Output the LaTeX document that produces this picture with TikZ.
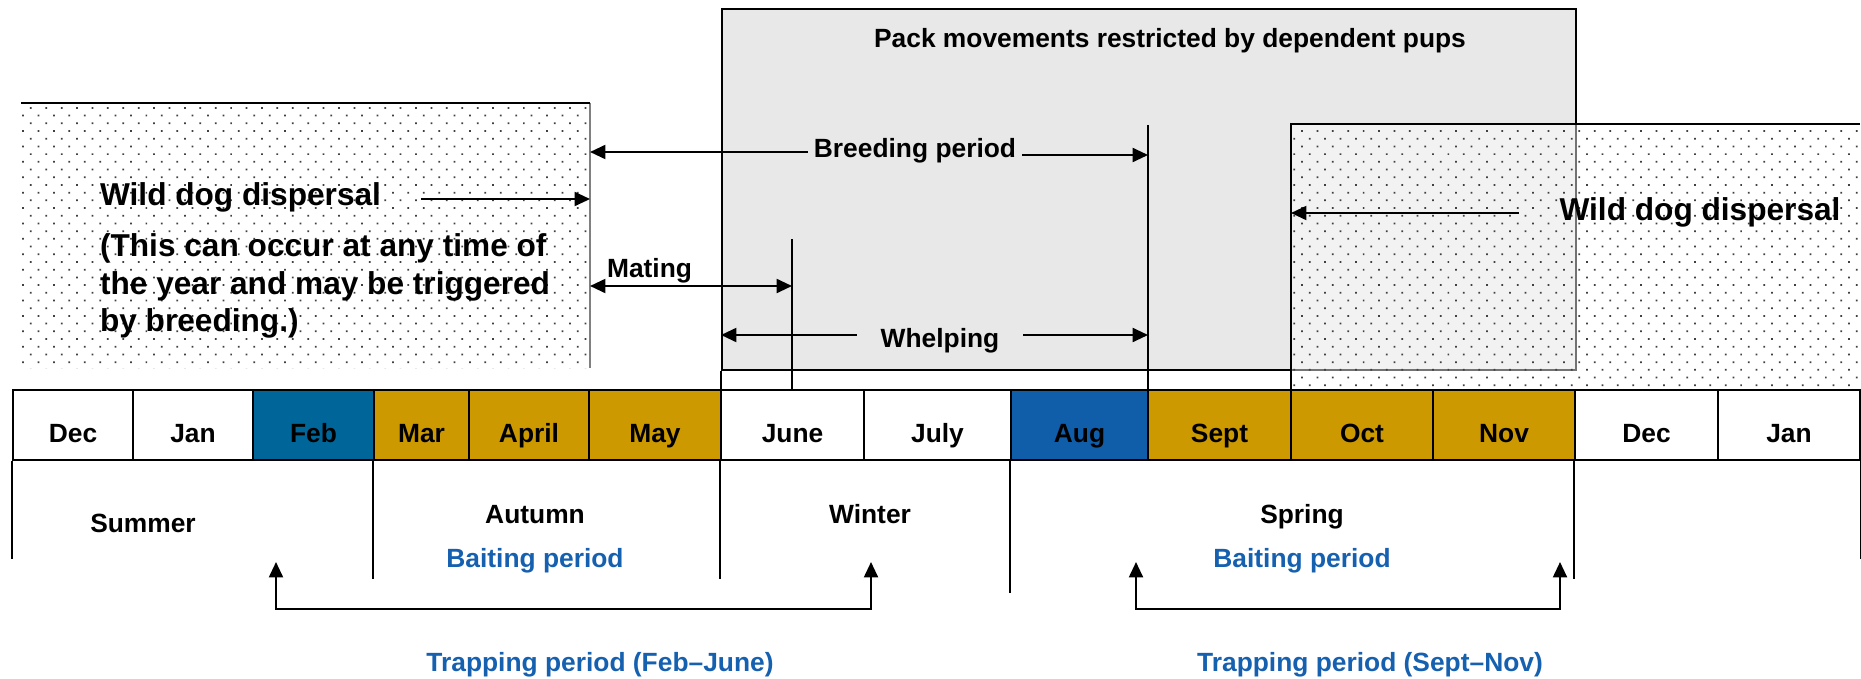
\documentclass[tikz,border=0pt]{standalone}
\usepackage{fontspec}
\setmainfont{Liberation Sans}
\usetikzlibrary{arrows.meta,patterns.meta}
\definecolor{febblue}{RGB}{0,102,153}
\definecolor{augblue}{RGB}{16,94,170}
\definecolor{gold}{RGB}{204,153,0}
\definecolor{baitblue}{RGB}{22,96,176}
\definecolor{packgrey}{RGB}{232,232,232}
\tikzset{
  lbl/.style={font=\bfseries\fontsize{7.5}{9}\selectfont, anchor=base, inner sep=0pt},
  big/.style={font=\bfseries\fontsize{9}{10.6}\selectfont, inner sep=0pt},
  cell/.style={rectangle, draw, line width=0.7pt, minimum height=7mm, inner sep=0pt},
  arr/.style={-{Triangle[length=4.4pt,width=4pt]}, line width=0.6pt},
  dblarr/.style={{Triangle[length=4.4pt,width=4pt]}-{Triangle[length=4.4pt,width=4pt]}, line width=0.6pt},
  dogzone/.style={pattern={Dots[distance=3.1pt,radius=0.35pt,angle=45]}, pattern color=black!75}
}
\begin{document}
\begin{tikzpicture}[x=0.1mm, y=-0.1mm, line width=0.6pt]
  \useasboundingbox (0,0) rectangle (1861,678);
  \path[dogzone] (21,103) rectangle (590,368);
  \draw[gray, line width=0.3pt] (590,103) -- (590,368);
  \draw[line width=0.8pt] (21,103) -- (590,103);
  \node[rectangle, draw, fill=packgrey, minimum width=85.4mm, minimum height=36.1mm, anchor=north west, inner sep=0pt] (pack) at (721,8) {};
  \node[lbl] (packt) at (1170,48) {Pack movements restricted by dependent pups};
  \draw (pack.south west) -- (721,390);
  \fill[white, fill opacity=0.45] (1291,124) rectangle (1860,390);
  \path[dogzone] (1291,124) rectangle (1860,390);
  \draw[line width=0.8pt] (1291,390) -- (1291,124) -- (1860,124);

  \node[big, anchor=base west] (wdl) at (99,205) {Wild dog dispersal};
  \coordinate (wdlB) at (590,199);
  \draw[arr, shorten <=3.9mm] (wdl.east |- wdlB) -- (wdlB);
  \node[big, anchor=west, align=left] (note) at (99,286) {(This can occur at any time of\\the year and may be triggered\\by breeding.)};
  \node[big, anchor=base] (wdr) at (1700,220) {Wild dog dispersal};
  \coordinate (wdrB) at (1291,213);
  \draw[arr, shorten <=4mm] (wdr.west |- wdrB) -- (wdrB);

  \node[lbl, inner xsep=0.5mm] (breed) at (915,158) {Breeding period};
  \coordinate (bL) at (590,152);
  \coordinate (bR) at (1148,155);
  \draw[arr] (breed.west |- bL) -- (bL);
  \draw[arr] (breed.east |- bR) -- (bR);
  \draw (1148,125) -- (1148,390);
  \node[lbl, anchor=base west] (mate) at (606,277) {Mating};
  \coordinate (mL) at (590,286);
  \coordinate (mR) at (792,286);
  \draw[dblarr] (mL) -- (mR);
  \draw (792,239) -- (792,390);
  \node[lbl, inner xsep=2.3mm] (whelp) at (940,347) {Whelping};
  \coordinate (wL) at (721,335);
  \coordinate (wR) at (1148,335);
  \draw[arr] (whelp.west |- wL) -- (wL);
  \draw[arr] (whelp.east |- wR) -- (wR);

  \foreach \a/\b/\name/\col [count=\i] in {13/133/Dec/white, 133/253/Jan/white, 253/374/Feb/febblue, 374/469/Mar/gold, 469/589/April/gold, 589/721/May/gold, 721/864/June/white, 864/1011/July/white, 1011/1148/Aug/augblue, 1148/1291/Sept/gold, 1291/1433/Oct/gold, 1433/1575/Nov/gold, 1575/1718/Dec/white, 1718/1860/Jan/white} {
    \node[cell, fill=\col, minimum width={(\b-\a)*0.1mm}] (m\i) at ({(\a+\b)/2},425) {};
    \node[lbl] (ml\i) at ({(\a+\b)/2},442) {\name};
  }
  \foreach \n/\len in {1/98, 4/118, 7/118, 9/132, 13/118}
    \draw[line width=0.5pt] (m\n.south west) -- ++(0,\len);
  \draw[line width=0.5pt] (m14.south east) -- ++(0,98);

  \node[lbl] (summer) at (143,532) {Summer};
  \node[lbl] (autumn) at (535,523) {Autumn};
  \node[lbl] (winter) at (870,523) {Winter};
  \node[lbl] (spring) at (1302,523) {Spring};
  \node[lbl, text=baitblue] (bait1) at (535,567) {Baiting period};
  \node[lbl, text=baitblue] (bait2) at (1302,567) {Baiting period};

  \coordinate (t1a) at (276,562);
  \coordinate (t1b) at (871,562);
  \coordinate (t2a) at (1136,562);
  \coordinate (t2b) at (1560,562);
  \draw[dblarr] (t1a) -- ++(0,47) -| (t1b);
  \draw[dblarr] (t2a) -- ++(0,47) -| (t2b);
  \node[lbl, text=baitblue] (trap1) at (600,671) {Trapping period (Feb--June)};
  \node[lbl, text=baitblue] (trap2) at (1370,671) {Trapping period (Sept--Nov)};
\end{tikzpicture}
\end{document}
